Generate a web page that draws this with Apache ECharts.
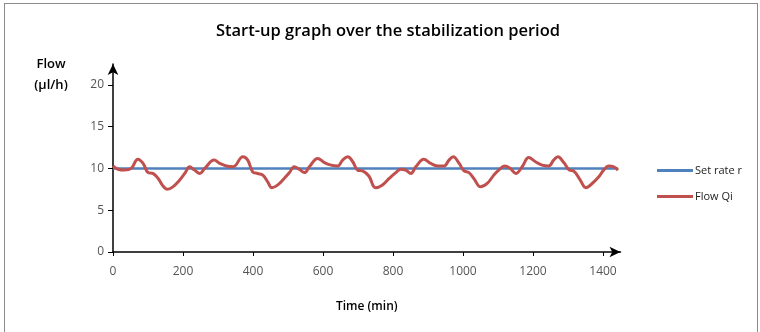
<!DOCTYPE html>
<html>
<head>
<meta charset="utf-8">
<script src="https://cdn.jsdelivr.net/npm/echarts@6/dist/echarts.min.js"></script>
<style>
  html, body { margin: 0; padding: 0; background: #fff; overflow: hidden; }
  .frame {
    position: absolute; left: 4px; top: 3px; width: 752px; height: 340px;
    border: 1px solid #8c8c8c;
  }
  #chart { position: absolute; left: 0; top: 0; width: 760px; height: 332px; }
</style>
</head>
<body>
<div class="frame"></div>
<div id="chart"></div>
<script>
const times = [0, 14, 33, 52, 71, 86, 100, 114, 129, 143, 155, 171, 190, 205, 219, 233, 248, 262,
  289, 305, 324, 343, 371, 385, 399, 413, 428, 442, 454, 470, 489, 504, 518, 532, 547, 561,
  585, 604, 623, 642, 656, 671, 685, 699, 713, 731, 750, 769, 789, 808, 822, 836, 851, 865,
  888, 908, 927, 946, 960, 972, 989, 1003, 1017, 1031, 1050, 1069, 1088, 1102, 1119, 1135,
  1151, 1169, 1188, 1207, 1226, 1245, 1259, 1271, 1288, 1304, 1316, 1335, 1351, 1369, 1388,
  1402, 1416, 1431, 1443];
const flowQi = [10.3, 9.9, 9.8, 10.0, 11.1, 10.6, 9.5, 9.4, 8.8, 7.9, 7.5, 7.8, 8.6, 9.4, 10.2, 9.8, 9.4, 10.0,
  11.0, 10.6, 10.3, 10.2, 11.4, 11.0, 9.6, 9.4, 9.2, 8.4, 7.7, 8.0, 8.8, 9.5, 10.2, 9.9, 9.5, 10.2,
  11.2, 10.7, 10.4, 10.3, 11.0, 11.4, 10.8, 9.8, 9.7, 9.1, 7.7, 8.0, 8.8, 9.5, 9.9, 9.8, 9.4, 10.2,
  11.1, 10.6, 10.3, 10.3, 11.0, 11.4, 10.6, 9.7, 9.5, 8.8, 7.8, 8.2, 9.2, 9.8, 10.3, 10.0,
  9.4, 10.2, 11.3, 10.8, 10.4, 10.3, 11.0, 11.4, 10.7, 9.8, 9.7, 8.6, 7.7, 8.2, 9.0,
  9.8, 10.3, 10.2, 9.8];
const setRateTimes = [0, 1443];
const setRate = [10, 10];
const xTicks = [0, 200, 400, 600, 800, 1000, 1200, 1400];
const yTicks = [0, 5, 10, 15, 20];

const chart = echarts.init(document.getElementById('chart'));
const font = 'Open Sans';

chart.setOption({
  animation: false,
  title: {
    text: 'Start-up graph over the stabilization period',
    left: 383, top: 18, textAlign: 'center',
    textStyle: { fontFamily: font, fontSize: 16.5, fontWeight: 600, color: '#000' }
  },
  legend: {
    orient: 'vertical', left: 652, top: 160, itemGap: 15,
    itemWidth: 36, itemHeight: 3, icon: 'rect',
    textStyle: { fontFamily: font, fontSize: 11, color: '#222', padding: [0, 0, 0, -3] },
    data: ['Set rate r', 'Flow Qi']
  },
  grid: { left: 113, right: 139.5, top: 64, bottom: 80 },
  xAxis: {
    type: 'value', min: 0, max: 1450,
    name: 'Time (min)', nameLocation: 'middle', nameGap: 49,
    nameTextStyle: { fontFamily: font, fontSize: 12, fontWeight: 600, color: '#000' },
    splitLine: { show: false },
    axisLine: { lineStyle: { color: '#000', width: 1.5 }, symbol: ['none', 'arrow'], symbolSize: [8, 11] },
    axisTick: { customValues: xTicks, length: 4, lineStyle: { color: '#000' } },
    axisLabel: { customValues: xTicks, margin: 14, fontFamily: font, fontSize: 12, color: '#555',
      formatter: v => String(v) }
  },
  yAxis: {
    type: 'value', min: 0, max: 22.5,
    splitLine: { show: false },
    axisLine: { show: true, lineStyle: { color: '#000', width: 1.5 }, symbol: ['none', 'arrow'], symbolSize: [8, 11] },
    axisTick: { show: true, customValues: yTicks, length: 5, lineStyle: { color: '#000' } },
    axisLabel: { customValues: yTicks, margin: 9, fontFamily: font, fontSize: 12, color: '#555' }
  },
  graphic: [
    {
      type: 'text', x: 51, y: 58,
      style: { text: 'Flow', fontFamily: font, fontSize: 13, fontWeight: 600, fill: '#000', align: 'center' }
    },
    {
      type: 'text', x: 51, y: 79,
      style: { text: '(µl/h)', fontFamily: font, fontSize: 13, fontWeight: 600, fill: '#000', align: 'center' }
    }
  ],
  series: [
    {
      name: 'Set rate r', type: 'line', showSymbol: false,
      data: setRateTimes.map((t, i) => [t, setRate[i]]),
      itemStyle: { color: '#4F81BD' },
      lineStyle: { color: '#4F81BD', width: 2.5 }
    },
    {
      name: 'Flow Qi', type: 'line', showSymbol: false, smooth: 0.4,
      data: times.map((t, i) => [t, flowQi[i]]),
      itemStyle: { color: '#C0504D' },
      lineStyle: { color: '#C0504D', width: 3 }
    }
  ]
});
</script>
</body>
</html>
